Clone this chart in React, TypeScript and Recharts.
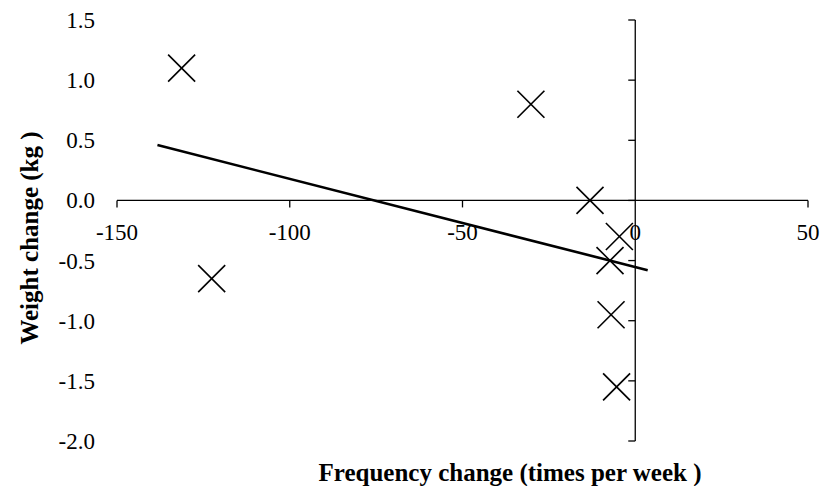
import React from 'react';
import {
    ScatterChart,
    Scatter,
    XAxis,
    YAxis,
    ReferenceLine,
    Label
} from 'recharts';

// change in training frequency vs. change in body weight
const freqChange = [-131.3, -122.6, -30.2, -13.1, -4.6, -7.3, -7.0, -5.4];
const weightChange = [1.10, -0.65, 0.80, 0.0, -0.30, -0.50, -0.95, -1.55];

// linear trend line, end points
const trendX = [-138.3, 3.6];
const trendY = [0.46, -0.58];

const xTicks = [-150, -100, -50, 0, 50];
const yTicks = [-2.0, -1.5, -1.0, -0.5, 0.0, 0.5, 1.0, 1.5];

const WIDTH = 823;
const HEIGHT = 486;
const MARGIN = { top: 20, right: 15, bottom: 0, left: 0 };
const Y_AXIS_W = 117;
const X_AXIS_H = 45;

const X_DOMAIN: [number, number] = [-150, 50];
const Y_DOMAIN: [number, number] = [-2, 1.5];

// pixel position of the zero lines (axes cross at the origin)
const plotLeft = MARGIN.left + Y_AXIS_W;
const plotW = WIDTH - plotLeft - MARGIN.right;
const plotTop = MARGIN.top;
const plotH = HEIGHT - MARGIN.top - MARGIN.bottom - X_AXIS_H;
const ZERO_X = plotLeft + ((0 - X_DOMAIN[0]) / (X_DOMAIN[1] - X_DOMAIN[0])) * plotW;
const ZERO_Y = plotTop + ((Y_DOMAIN[1] - 0) / (Y_DOMAIN[1] - Y_DOMAIN[0])) * plotH;

const FONT = "'Liberation Serif', 'Times New Roman', 'DejaVu Serif', serif";
const tickText = { fontFamily: FONT, fontSize: 23 };
const titleText = { fontFamily: FONT, fontSize: 25, fontWeight: 'bold' as const };

const points = freqChange.map((x, i) => ({ x, y: weightChange[i] }));
const trend = trendX.map((x, i) => ({ x, y: trendY[i] }));

const Cross = (props: any) => {
    const { cx, cy } = props;
    const r = 13.5;
    return (
        <g stroke="#000" strokeWidth={1.6}>
            <line x1={cx - r} y1={cy - r} x2={cx + r} y2={cy + r} />
            <line x1={cx - r} y1={cy + r} x2={cx + r} y2={cy - r} />
        </g>
    );
};

const XTick = (props: any) => {
    const { x, payload } = props;
    return (
        <g>
            {payload.value !== 0 && (
                <line x1={x} y1={ZERO_Y} x2={x} y2={ZERO_Y + 7} stroke="#000" strokeWidth={1.3} />
            )}
            <text x={x} y={ZERO_Y + 40} textAnchor="middle" style={tickText} fill="#000">
                {payload.value}
            </text>
        </g>
    );
};

const YTick = (props: any) => {
    const { y, payload } = props;
    return (
        <g>
            <line x1={ZERO_X - 7} y1={y} x2={ZERO_X} y2={y} stroke="#000" strokeWidth={1.3} />
            <text x={95} y={y + 8} textAnchor="end" style={tickText} fill="#000">
                {Number(payload.value).toFixed(1)}
            </text>
        </g>
    );
};

export default function App() {
    return (
        <div style={{ position: 'absolute', left: 0, top: 0, background: '#fff', fontFamily: FONT }}>
            <ScatterChart width={WIDTH} height={HEIGHT} margin={MARGIN}>
                <XAxis
                    type="number"
                    dataKey="x"
                    domain={X_DOMAIN}
                    ticks={xTicks}
                    interval={0}
                    height={X_AXIS_H}
                    axisLine={false}
                    tickLine={false}
                    tick={<XTick />}
                >
                    <Label
                        content={() => (
                            <text x={510} y={481} textAnchor="middle" style={titleText} fill="#000">
                                Frequency change (times per week )
                            </text>
                        )}
                    />
                </XAxis>
                <YAxis
                    type="number"
                    dataKey="y"
                    domain={Y_DOMAIN}
                    ticks={yTicks}
                    interval={0}
                    width={Y_AXIS_W}
                    axisLine={false}
                    tickLine={false}
                    tick={<YTick />}
                >
                    <Label
                        content={() => (
                            <text x={38} y={238} transform="rotate(-90 38 238)" textAnchor="middle"
                                style={titleText} fill="#000">
                                Weight change (kg )
                            </text>
                        )}
                    />
                </YAxis>
                <ReferenceLine y={0} stroke="#000" strokeWidth={1.3} />
                <ReferenceLine x={0} stroke="#000" strokeWidth={1.3} />
                <Scatter
                    data={trend}
                    line={{ stroke: '#000', strokeWidth: 2.6 }}
                    shape={() => <g />}
                    isAnimationActive={false}
                />
                <Scatter data={points} shape={<Cross />} isAnimationActive={false} />
            </ScatterChart>
        </div>
    );
}
